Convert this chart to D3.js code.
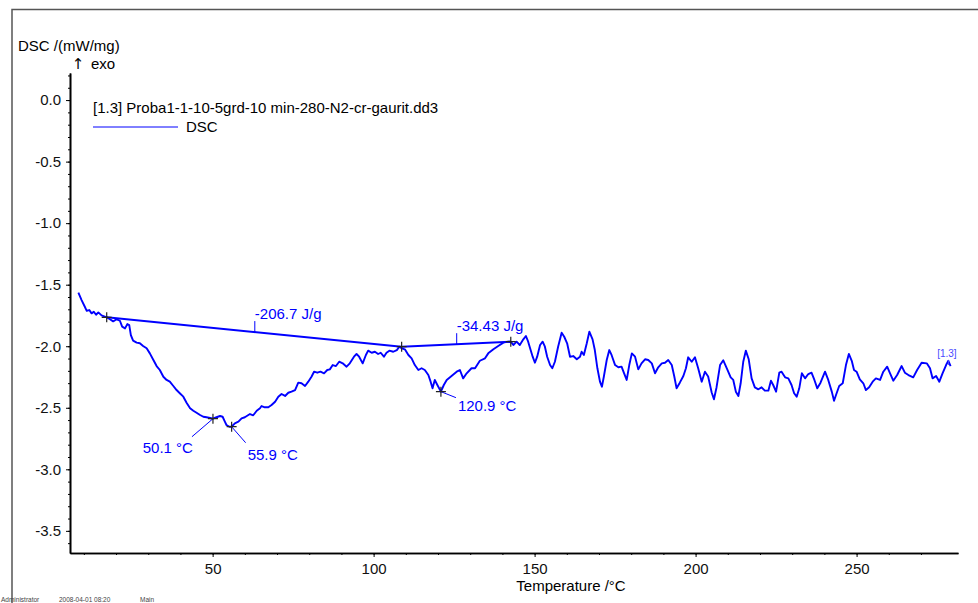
<!DOCTYPE html>
<html>
<head>
<meta charset="utf-8">
<script src="https://cdn.jsdelivr.net/npm/d3@7"></script>
<style>
  body { margin: 0; background: #fff; }
  svg { display: block; font-family: "Liberation Sans", Arial, sans-serif; }
</style>
</head>
<body>
<svg id="chart" width="978" height="603"></svg>
<script>
// Temperature (°C) and DSC signal (mW/mg)
const temperature = [
  8.3, 9.3, 10.3, 10.9, 11.7, 12.4, 13.1, 13.8, 14.5, 15.5, 17.1, 18.1, 19.1, 20.2, 21.2, 21.9, 22.8, 23.5, 24.1, 24.6,
  25.3, 26.4, 27.4, 28.4, 29.5, 30.5, 31.6, 32.6, 33.6, 34.7, 35.7, 36.7, 37.8, 38.8, 39.8, 40.9, 41.9, 43.0, 44.0, 45.0,
  46.1, 47.1, 48.1, 49.2, 50.1, 51.2, 52.3, 53.1, 53.8, 54.3, 55.2, 55.9, 56.9, 58.0, 59.0, 60.0, 61.1, 61.6, 62.6, 63.7,
  64.7, 65.2, 66.2, 67.3, 68.3, 69.4, 70.4, 71.4, 72.5, 73.5, 74.5, 75.6, 76.6, 77.6, 78.7, 79.7, 80.7, 81.5, 82.5, 83.5,
  84.6, 85.6, 86.4, 87.3, 88.3, 89.3, 90.4, 91.6, 92.6, 93.9, 94.7, 95.5, 96.6, 97.6, 98.3, 99.4, 100.4, 101.4, 102.2, 103.2,
  104.0, 104.9, 106.1, 107.2, 108.0, 108.7, 109.7, 110.8, 111.8, 112.8, 113.9, 114.9, 115.9, 117.0, 117.7, 118.3, 119.0, 119.8, 120.9, 121.8,
  122.7, 124.2, 125.8, 126.8, 127.8, 128.9, 130.4, 131.5, 133.0, 134.6, 135.6, 137.2, 138.7, 140.3, 141.8, 142.6, 143.4, 144.4, 145.4, 146.5,
  147.3, 148.0, 148.6, 149.4, 150.1, 150.8, 151.7, 152.5, 153.2, 153.9, 154.8, 155.5, 156.3, 157.3, 158.4, 159.2, 160.1, 161.0, 162.0, 163.1,
  164.1, 164.6, 165.3, 166.2, 167.0, 168.0, 168.7, 169.5, 170.3, 170.9, 171.5, 172.4, 173.2, 173.9, 175.0, 176.0, 177.0, 177.8, 178.6, 179.4,
  180.2, 181.2, 182.2, 183.2, 184.3, 185.3, 186.4, 187.4, 188.4, 189.5, 190.5, 191.5, 192.6, 193.4, 194.1, 195.1, 196.2, 197.0, 197.7, 198.8,
  199.8, 200.8, 201.9, 202.9, 203.9, 205.0, 205.7, 206.5, 207.6, 208.6, 209.7, 210.9, 211.7, 212.5, 213.3, 214.0, 214.8, 215.6, 216.5, 217.4,
  218.4, 219.5, 220.5, 221.5, 222.6, 223.4, 224.1, 225.0, 226.0, 226.7, 227.8, 228.8, 229.8, 230.6, 231.4, 232.2, 233.0, 234.0, 235.0, 236.0,
  236.9, 237.8, 238.8, 240.2, 241.2, 242.3, 243.0, 243.8, 244.6, 245.7, 246.7, 247.6, 248.5, 249.2, 250.0, 251.0, 252.1, 252.9, 253.9, 255.0,
  256.0, 257.3, 258.3, 259.5, 260.4, 261.4, 262.6, 264.0, 265.0, 266.1, 267.6, 268.8, 270.2, 271.8, 272.8, 273.6, 274.7, 275.7, 276.7, 277.8,
  278.5, 279.2
];
const dsc = [
  -1.565, -1.625, -1.679, -1.712, -1.706, -1.733, -1.720, -1.744, -1.725, -1.749, -1.765, -1.781, -1.798, -1.781, -1.793, -1.841, -1.855, -1.820, -1.828, -1.909,
  -1.955, -1.971, -1.976, -1.998, -2.017, -2.058, -2.112, -2.161, -2.193, -2.248, -2.274, -2.288, -2.323, -2.356, -2.382, -2.410, -2.459, -2.504, -2.524, -2.540,
  -2.559, -2.573, -2.577, -2.583, -2.589, -2.577, -2.567, -2.573, -2.613, -2.640, -2.654, -2.654, -2.626, -2.613, -2.586, -2.577, -2.559, -2.551, -2.561, -2.524,
  -2.504, -2.486, -2.496, -2.496, -2.478, -2.451, -2.410, -2.388, -2.404, -2.378, -2.369, -2.356, -2.296, -2.301, -2.323, -2.288, -2.248, -2.207, -2.215, -2.207,
  -2.220, -2.193, -2.188, -2.153, -2.161, -2.126, -2.139, -2.166, -2.139, -2.085, -2.063, -2.085, -2.139, -2.071, -2.036, -2.053, -2.045, -2.063, -2.053, -2.085,
  -2.053, -2.036, -2.045, -2.031, -2.004, -2.017, -2.025, -2.071, -2.098, -2.153, -2.193, -2.179, -2.193, -2.234, -2.288, -2.342, -2.274, -2.315, -2.369, -2.315,
  -2.274, -2.242, -2.207, -2.193, -2.261, -2.220, -2.179, -2.179, -2.118, -2.098, -2.058, -2.025, -1.998, -1.971, -1.963, -1.963, -1.990, -1.963, -1.990, -1.944,
  -1.917, -1.963, -2.017, -2.085, -2.134, -2.085, -1.990, -1.963, -2.004, -2.085, -2.153, -2.179, -2.126, -2.004, -1.890, -1.923, -1.976, -2.085, -2.080, -2.106,
  -2.085, -2.045, -2.071, -1.976, -1.882, -1.944, -2.031, -2.179, -2.288, -2.329, -2.248, -2.112, -2.031, -2.071, -2.153, -2.171, -2.166, -2.220, -2.274, -2.153,
  -2.058, -2.085, -2.188, -2.139, -2.106, -2.112, -2.139, -2.220, -2.171, -2.139, -2.134, -2.112, -2.153, -2.248, -2.342, -2.296, -2.242, -2.179, -2.090, -2.126,
  -2.090, -2.179, -2.288, -2.207, -2.246, -2.376, -2.431, -2.335, -2.153, -2.114, -2.179, -2.253, -2.274, -2.369, -2.404, -2.301, -2.126, -2.036, -2.106, -2.261,
  -2.334, -2.350, -2.334, -2.361, -2.361, -2.280, -2.315, -2.369, -2.215, -2.207, -2.253, -2.261, -2.315, -2.382, -2.410, -2.342, -2.220, -2.261, -2.226, -2.215,
  -2.274, -2.342, -2.296, -2.207, -2.274, -2.369, -2.443, -2.382, -2.323, -2.301, -2.153, -2.063, -2.118, -2.193, -2.207, -2.269, -2.301, -2.356, -2.334, -2.288,
  -2.261, -2.274, -2.207, -2.166, -2.220, -2.280, -2.234, -2.161, -2.215, -2.234, -2.253, -2.193, -2.134, -2.139, -2.179, -2.261, -2.242, -2.288, -2.220, -2.153,
  -2.118, -2.161
];

// Integration baselines (start / end temperature and signal)
const baselineTemps  = [[17.1, 108.7], [108.7, 142.6]];
const baselineValues = [[-1.765, -2.004], [-2.004, -1.963]];
const areaLabels     = ["-206.7 J/g", "-34.43 J/g"];
const areaLabelTemps = [63.1, 125.8];

// Peak markers
const peakTemps  = [50.1, 55.9, 120.9];
const peakValues = [-2.589, -2.654, -2.369];
const peakLabels = ["50.1 °C", "55.9 °C", "120.9 °C"];

// Axis ticks
const xMajorTicks = [50, 100, 150, 200, 250];
const xMinorTicks = d3.range(10, 271, 10);
const yMajorTicks = [0.0, -0.5, -1.0, -1.5, -2.0, -2.5, -3.0, -3.5];
const yMinorTicks = d3.range(-36, 3).map(d => d / 10);

const BLUE = "#0000ff";
const svg = d3.select("#chart");

let x = d3.scaleLinear().domain([5.7, 281.5]).range([70, 958]);
let y = d3.scaleLinear().domain([0.22, -3.68]).range([73, 553]);

// Frame (top and left edge only)
svg.append("path")
  .attr("d", "M12,603 V9.5 H978")
  .attr("fill", "none")
  .attr("stroke", "#555")
  .attr("stroke-width", 1.5);

// Axes
function styleAxis(g) {
  g.select(".domain").attr("stroke", "#000").attr("stroke-width", 1.6);
  g.selectAll(".tick line").attr("stroke", "#000");
  g.selectAll(".tick text")
    .attr("fill", "#111")
    .style("font-size", "15px")
    .style("font-family", "'Liberation Sans', Arial, sans-serif");
}

svg.append("g")
  .attr("transform", "translate(0,553)")
  .call(d3.axisBottom(x).tickValues(xMinorTicks).tickSize(2).tickSizeOuter(0).tickFormat(""))
  .call(styleAxis);
svg.append("g")
  .attr("transform", "translate(0,553)")
  .call(d3.axisBottom(x).tickValues(xMajorTicks).tickSize(4).tickPadding(6).tickSizeOuter(0).tickFormat(d3.format("d")))
  .call(styleAxis);

svg.append("g")
  .attr("transform", "translate(70,0)")
  .call(d3.axisLeft(y).tickValues(yMinorTicks).tickSize(2).tickSizeOuter(0).tickFormat(""))
  .call(styleAxis);
svg.append("g")
  .attr("transform", "translate(70,0)")
  .call(d3.axisLeft(y).tickValues(yMajorTicks).tickSize(4).tickPadding(5).tickSizeOuter(0).tickFormat(d => d.toFixed(1)))
  .call(styleAxis);

// Axis titles
svg.append("text")
  .attr("x", 18).attr("y", 51)
  .style("font-size", "15px")
  .text("DSC /(mW/mg)");
svg.append("text")
  .attr("x", 78).attr("y", 69)
  .attr("text-anchor", "middle")
  .style("font-family", "'DejaVu Sans', sans-serif")
  .style("font-size", "15px")
  .text("↑");
svg.append("text")
  .attr("x", 91).attr("y", 69)
  .style("font-size", "15px")
  .text("exo");
svg.append("text")
  .attr("x", 571).attr("y", 591)
  .attr("text-anchor", "middle")
  .style("font-size", "15px")
  .text("Temperature /°C");

// Legend
svg.append("text")
  .attr("x", 93).attr("y", 113)
  .style("font-size", "15px")
  .text("[1.3] Proba1-1-10-5grd-10 min-280-N2-cr-gaurit.dd3");
svg.append("line")
  .attr("x1", 93).attr("x2", 178)
  .attr("y1", 127).attr("y2", 127)
  .attr("stroke", BLUE)
  .attr("stroke-width", 1);
svg.append("text")
  .attr("x", 186).attr("y", 132)
  .style("font-size", "15px")
  .text("DSC");

// Footer
let footer = svg.append("g")
  .style("font-size", "6.5px")
  .attr("fill", "#444");
footer.append("text").attr("x", 1).attr("y", 602).text("Administrator");
footer.append("text").attr("x", 59).attr("y", 602).text("2008-04-01 08:20");
footer.append("text").attr("x", 140).attr("y", 602).text("Main");

// Baselines
let bl = svg.append("g");
baselineTemps.forEach((t, i) => {
  let v = baselineValues[i];
  bl.append("line")
    .attr("x1", x(t[0])).attr("y1", y(v[0]))
    .attr("x2", x(t[1])).attr("y2", y(v[1]))
    .attr("stroke", BLUE)
    .attr("stroke-width", 2);

  // label tick sits on the baseline
  let lt = areaLabelTemps[i];
  let lv = v[0] + (v[1] - v[0]) * (lt - t[0]) / (t[1] - t[0]);
  bl.append("line")
    .attr("x1", x(lt)).attr("x2", x(lt))
    .attr("y1", y(lv)).attr("y2", y(lv) - 11)
    .attr("stroke", BLUE)
    .attr("stroke-width", 1);
  bl.append("text")
    .attr("x", x(lt)).attr("y", y(lv) - 13)
    .attr("fill", BLUE)
    .style("font-size", "15px")
    .text(areaLabels[i]);
});

// DSC curve
let line = d3.line()
  .x((d, i) => x(temperature[i]))
  .y(d => y(d));

svg.append("path")
  .datum(dsc)
  .attr("d", line)
  .attr("fill", "none")
  .attr("stroke", BLUE)
  .attr("stroke-width", 1.9)
  .attr("stroke-linejoin", "round");

// Curve end label
let lastT = temperature[temperature.length - 1];
let lastV = dsc[dsc.length - 1];
svg.append("line")
  .attr("x1", x(lastT) - 2).attr("y1", y(lastV) - 6)
  .attr("x2", x(lastT) - 2).attr("y2", y(lastV) - 1)
  .attr("stroke", "#4a4aff")
  .attr("stroke-width", 1);
svg.append("text")
  .attr("x", x(lastT) + 6).attr("y", y(lastV) - 9)
  .attr("text-anchor", "end")
  .attr("fill", "#4a4aff")
  .style("font-size", "10px")
  .text("[1.3]");

// Peak leaders and labels
const leaderOffsets = [[-21, 18], [14, 16], [15, 6]];
const labelOffsets  = [[-20, 34, "end"], [16, 33, "start"], [17, 19, "start"]];
let pk = svg.append("g");
peakTemps.forEach((t, i) => {
  let px = x(t), py = y(peakValues[i]);
  pk.append("line")
    .attr("x1", px).attr("y1", py)
    .attr("x2", px + leaderOffsets[i][0]).attr("y2", py + leaderOffsets[i][1])
    .attr("stroke", BLUE)
    .attr("stroke-width", 1);
  pk.append("text")
    .attr("x", px + labelOffsets[i][0]).attr("y", py + labelOffsets[i][1])
    .attr("text-anchor", labelOffsets[i][2])
    .attr("fill", BLUE)
    .style("font-size", "15px")
    .text(peakLabels[i]);
});

// Cross markers on peaks and baseline ends
let markT = peakTemps.concat([17.1, 108.7, 142.6]);
let markV = peakValues.concat([-1.765, -2.004, -1.963]);
svg.append("g")
  .selectAll("path")
  .data(markT)
  .join("path")
  .attr("d", (t, i) => {
    let cx = x(t), cy = y(markV[i]);
    return `M${cx - 5},${cy} H${cx + 5} M${cx},${cy - 5} V${cy + 5}`;
  })
  .attr("stroke", "#222")
  .attr("stroke-width", 1.2);
</script>
</body>
</html>
